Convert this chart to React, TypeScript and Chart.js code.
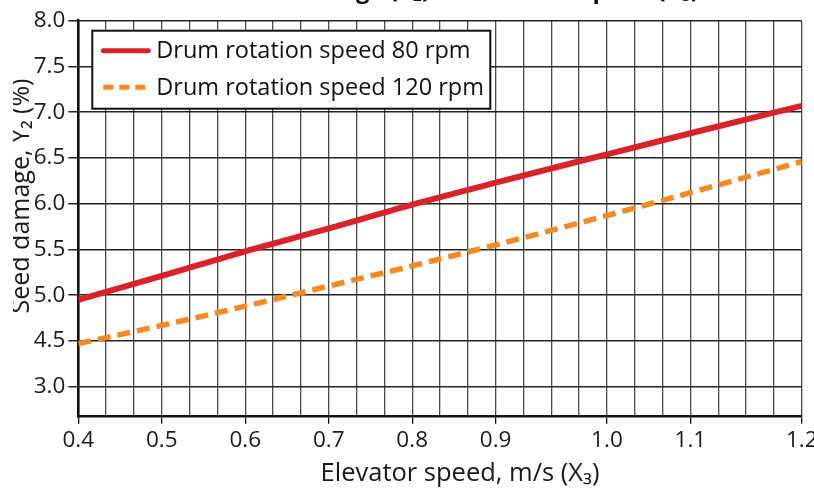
import React, { useEffect, useRef } from "react";
import { Chart, registerables } from "chart.js";

Chart.register(...registerables);

// Elevator speed (m/s) and where each labelled speed sits on the 26-cell drawn grid
const speeds = [0.4, 0.5, 0.6, 0.7, 0.8, 0.9, 1.0, 1.1, 1.2];
const speedGridStep = [0, 3, 6, 9, 12, 15, 19, 22, 26];
const gridCells = 26;

// Seed damage Y2 (%)
const damage80 = [4.95, 5.21, 5.48, 5.73, 5.99, 6.23, 6.54, 6.77, 7.07];
const damage120 = [4.47, 4.67, 4.88, 5.1, 5.32, 5.55, 5.87, 6.12, 6.46];

// y tick values and the labels printed beside them
const yTickValues = [4.0, 4.5, 5.0, 5.5, 6.0, 6.5, 7.0, 7.5, 8.0];
const yTickLabels = ["3.0", "4.5", "5.0", "5.5", "6.0", "6.5", "7.0", "7.5", "8.0"];

const seriesNames = ["Drum rotation speed 80 rpm", "Drum rotation speed 120 rpm"];
const chartTitle = "Seed damage (Y\u2082) vs. Elevator speed (X\u2083)";
const xTitle = "Elevator speed, m/s (X\u2083)";
const yTitle = "Seed damage, Y\u2082 (%)";

const FONT = '"Open Sans", sans-serif';

const decorPlugin = {
  id: "decor",
  afterDraw(chart: any) {
    const { ctx, chartArea } = chart;
    ctx.save();
    // title (only its lower part falls inside the canvas)
    ctx.fillStyle = "#111";
    ctx.font = `bold 24px ${FONT}`;
    ctx.textAlign = "center";
    ctx.textBaseline = "alphabetic";
    ctx.fillText(chartTitle, 462, -2);

    // x axis title
    ctx.font = `25.5px ${FONT}`;
    ctx.fillStyle = "#1a1a1a";
    ctx.fillText(xTitle, 460, chartArea.bottom + 64);

    // y axis title
    ctx.save();
    ctx.beginPath();
    ctx.rect(13, 0, 100, 490);
    ctx.clip();
    ctx.translate(29, 196);
    ctx.rotate(-Math.PI / 2);
    ctx.font = `25px ${FONT}`;
    ctx.fillText(yTitle, 0, 0);
    ctx.restore();

    // legend box
    const lx = chartArea.left + 14;
    const ly = chartArea.top + 10;
    const lw = 398;
    const lh = 78;
    ctx.fillStyle = "#fff";
    ctx.fillRect(lx, ly, lw, lh);
    ctx.strokeStyle = "#111";
    ctx.lineWidth = 2;
    ctx.strokeRect(lx, ly, lw, lh);
    chart.data.datasets.forEach((ds: any, i: number) => {
      const cy = ly + 20 + i * 36.5;
      ctx.beginPath();
      ctx.strokeStyle = ds.borderColor;
      ctx.lineWidth = 5;
      ctx.lineCap = i === 0 ? "round" : "butt";
      ctx.setLineDash(i === 0 ? [] : [10, 6]);
      ctx.moveTo(lx + 11, cy);
      ctx.lineTo(lx + 56, cy);
      ctx.stroke();
      ctx.setLineDash([]);
      ctx.fillStyle = "#111";
      ctx.font = `23.5px ${FONT}`;
      ctx.textAlign = "left";
      ctx.textBaseline = "middle";
      ctx.fillText(ds.label, lx + 64, cy + 1);
    });
    ctx.restore();
  },
};

export default function App() {
  const ref = useRef<HTMLCanvasElement>(null);
  useEffect(() => {
    if (!ref.current) return;
    const chart = new Chart(ref.current, {
      type: "line",
      data: {
        datasets: [
          {
            label: seriesNames[0],
            data: speeds.map((_, i) => ({ x: speedGridStep[i], y: damage80[i] })),
            borderColor: "#d8232a",
            borderWidth: 6,
            pointRadius: 0,
            cubicInterpolationMode: "monotone",
          },
          {
            label: seriesNames[1],
            data: speeds.map((_, i) => ({ x: speedGridStep[i], y: damage120[i] })),
            borderColor: "#f58a25",
            borderWidth: 5.5,
            borderDash: [13, 7],
            pointRadius: 0,
            cubicInterpolationMode: "monotone",
          },
        ],
      },
      options: {
        responsive: false,
        animation: false,
        devicePixelRatio: 1,
        layout: { padding: { top: 20.7, right: 12.3, left: 0, bottom: 0 } },
        plugins: { legend: { display: false }, title: { display: false }, tooltip: { enabled: false } },
        scales: {
          x: {
            type: "linear",
            min: 0,
            max: gridCells,
            afterBuildTicks: (s: any) => {
              s.ticks = Array.from({ length: gridCells + 1 }, (_, i) => ({ value: i }));
            },
            afterFit: (s: any) => {
              s.height = 490 - 416.7;
              s.paddingLeft = 0;
              s.paddingRight = 0;
            },
            ticks: {
              autoSkip: false,
              maxRotation: 0,
              padding: 3,
              color: "#1a1a1a",
              font: { family: FONT, size: 22.5 },
              callback: (v: any) => {
                const i = speedGridStep.indexOf(Number(v));
                return i >= 0 ? speeds[i].toFixed(1) : "";
              },
            },
            grid: {
              color: "#4a4a4a",
              lineWidth: 1.3,
              tickLength: 7,
              tickColor: (c: any) =>
                c.tick && speedGridStep.indexOf(c.tick.value) >= 0 ? "#111" : "rgba(0,0,0,0)",
            },
            border: { color: "#111", width: 2.5 },
          },
          y: {
            type: "linear",
            min: 3.672,
            max: 8.0,
            afterBuildTicks: (s: any) => {
              s.ticks = yTickValues.map((v) => ({ value: v }));
            },
            afterFit: (s: any) => {
              s.width = 78.3;
              s.paddingTop = 0;
              s.paddingBottom = 0;
            },
            ticks: {
              autoSkip: false,
              padding: 3,
              color: "#1a1a1a",
              font: { family: FONT, size: 22.5 },
              callback: (_v: any, i: number) => yTickLabels[i],
            },
            grid: { color: "#222", lineWidth: 1.5, tickLength: 10, tickColor: "#222" },
            border: { color: "#111", width: 2.5 },
          },
        },
      },
      plugins: [decorPlugin],
    } as any);
    return () => chart.destroy();
  }, []);
  return (
    <div style={{ position: "absolute", left: 0, top: 0, width: 814, height: 490, background: "#fff" }}>
      <canvas ref={ref} width={814} height={490} style={{ display: "block" }} />
    </div>
  );
}
